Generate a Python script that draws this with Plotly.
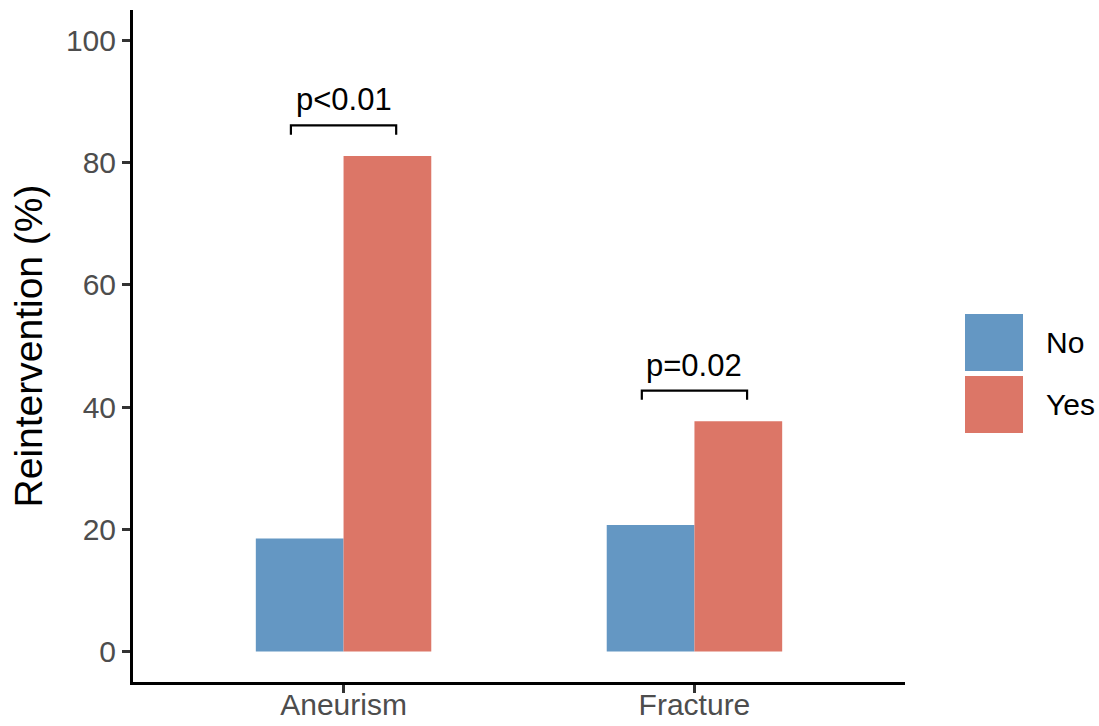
import plotly.graph_objects as go

# Reintervention rates by indication and group
categories = ["Aneurism", "Fracture"]
groups = ["No", "Yes"]
no_values = [18.5, 20.7]
yes_values = [81.1, 37.7]
p_labels = ["p<0.01", "p=0.02"]
y_ticks = [0, 20, 40, 60, 80, 100]

colors = {"No": "#6497C3", "Yes": "#DC7667"}
font_family = "Liberation Sans, Arial, sans-serif"

W, H = 1099, 726
L, R, T, B = 133, 194, 10, 44

fig = go.Figure()
for name, vals in zip(groups, [no_values, yes_values]):
    fig.add_trace(go.Bar(
        x=categories, y=vals, name=name,
        marker=dict(color=colors[name], line=dict(width=0)),
        showlegend=False,
    ))

# significance brackets above each pair of bars
half = 0.15
tip = 1.5
for i, (lab, a, b) in enumerate(zip(p_labels, no_values, yes_values)):
    yb = max(a, b) + 5
    fig.add_shape(
        type="path",
        path=f"M {i - half},{yb - tip} L {i - half},{yb} L {i + half},{yb} L {i + half},{yb - tip}",
        xref="x", yref="y",
        line=dict(color="black", width=2.2),
    )
    fig.add_annotation(
        x=i, y=yb, xref="x", yref="y", text=lab, showarrow=False,
        yanchor="bottom", yshift=6,
        font=dict(family=font_family, size=31, color="black"),
    )

# legend drawn as large square keys
plot_w = W - L - R
plot_h = H - T - B


def px_x(px):
    return (px - L) / plot_w


def px_y(py):
    return (H - B - py) / plot_h


key_left, key_right = 965, 1023
key_tops = [314, 376]
key_size = 57
for name, top in zip(groups, key_tops):
    fig.add_shape(
        type="rect", xref="paper", yref="paper",
        x0=px_x(key_left), x1=px_x(key_right),
        y0=px_y(top + key_size), y1=px_y(top),
        fillcolor=colors[name], line=dict(width=0),
    )
    fig.add_annotation(
        x=px_x(1044), y=px_y(top + key_size / 2), xref="paper", yref="paper",
        text=name, showarrow=False, xanchor="left", yanchor="middle",
        font=dict(family=font_family, size=30, color="black"),
    )

fig.update_layout(
    width=W, height=H,
    margin=dict(l=L, r=R, t=T, b=B, autoexpand=False),
    paper_bgcolor="white", plot_bgcolor="white",
    barmode="group", bargap=0.5, bargroupgap=0,
    font=dict(family=font_family),
    xaxis=dict(
        type="category", range=[-0.6, 1.6], automargin=False,
        showline=True, linecolor="black", linewidth=3,
        ticks="outside", ticklen=8, tickwidth=3, tickcolor="#333333",
        tickfont=dict(size=30, color="#4D4D4D"),
        ticklabelstandoff=-14,
        showgrid=False, zeroline=False,
    ),
    yaxis=dict(
        range=[-5, 105], tickvals=y_ticks, automargin=False,
        showline=True, linecolor="black", linewidth=3,
        ticks="outside", ticklen=8, tickwidth=3, tickcolor="#333333",
        tickfont=dict(size=30, color="#4D4D4D"),
        showgrid=False, zeroline=False,
        title=dict(text="Reintervention (%)", standoff=12,
                   font=dict(size=39, color="black")),
    ),
)

fig.write_html("out.html")
